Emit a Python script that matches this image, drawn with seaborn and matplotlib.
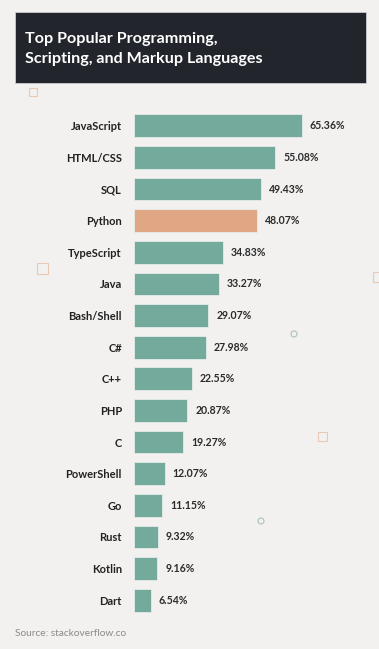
import matplotlib
matplotlib.use("Agg")
import matplotlib.pyplot as plt
import matplotlib.patches as mpatches
import seaborn as sns
import pandas as pd

languages = ["JavaScript", "HTML/CSS", "SQL", "Python", "TypeScript", "Java",
             "Bash/Shell", "C#", "C++", "PHP", "C", "PowerShell", "Go",
             "Rust", "Kotlin", "Dart"]
shares = [65.36, 55.08, 49.43, 48.07, 34.83, 33.27, 29.07, 27.98, 22.55,
          20.87, 19.27, 12.07, 11.15, 9.32, 9.16, 6.54]
highlight = "Python"
title = "Top Popular Programming,\nScripting, and Markup Languages"
source = "Source: stackoverflow.co"

BG = "#f3f1f0"
TEAL = "#74aa9c"
ORANGE = "#e0a784"
DARK = "#22262c"

sns.set_theme(style="white")
plt.rcParams["font.family"] = ["Lato", "DejaVu Sans"]

df = pd.DataFrame({"language": languages, "share": shares})
palette = {l: (ORANGE if l == highlight else TEAL) for l in languages}

W, H = 379, 649
fig = plt.figure(figsize=(W / 100, H / 100), dpi=100, facecolor=BG)

# title box
fig.patches.append(mpatches.Rectangle((15 / W, 1 - 83 / H), 351 / W, 71 / H,
                                      transform=fig.transFigure, facecolor=DARK,
                                      edgecolor="#c9cdd2", linewidth=0.6, zorder=0))
fig.text(25 / W, 1 - 49 / H, title, color="white", fontsize=11.6, fontweight="bold",
         va="center", ha="left", linespacing=1.6)

ax = fig.add_axes([133.7 / W, 1 - 616 / H, 231.3 / W, 506 / H])
ax.set_facecolor(BG)
sns.barplot(data=df, y="language", x="share", hue="language", palette=palette,
            legend=False, width=0.72, ax=ax, edgecolor="#e6ecea", linewidth=0.6,
            saturation=1)
ax.set_xlim(0, 90)
for i, v in enumerate(shares):
    ax.text(v + 3.1, i, f"{v:.2f}%", va="center", ha="left", fontsize=7.6,
            fontweight="bold", color="#2b2b2b")
ax.set_xlabel("")
ax.set_ylabel("")
ax.set_xticks([])
ax.tick_params(axis="y", length=0, pad=8.5)
for lab in ax.get_yticklabels():
    lab.set_fontsize(8)
    lab.set_fontweight("bold")
    lab.set_color("#222222")
for s in ax.spines.values():
    s.set_visible(False)

fig.text(15 / W, 1 - 633 / H, source, fontsize=7.3, color="#8a8a8a", va="center", ha="left")

# decorative shapes
for (x, y, s) in [(29, 88, 8), (37, 263, 11), (318, 432, 9), (373, 272, 10)]:
    fig.patches.append(mpatches.Rectangle((x / W, 1 - (y + s) / H), s / W, s / H,
                                          transform=fig.transFigure, fill=False,
                                          edgecolor="#e8c9b6", linewidth=0.8))
for (x, y) in [(294, 334), (261, 521)]:
    fig.patches.append(mpatches.Ellipse((x / W, 1 - y / H), 6 / W, 6 / H,
                                        transform=fig.transFigure, fill=False,
                                        edgecolor="#a9c2bb", linewidth=0.8))

fig.savefig("out.png", dpi=100, facecolor=BG)
